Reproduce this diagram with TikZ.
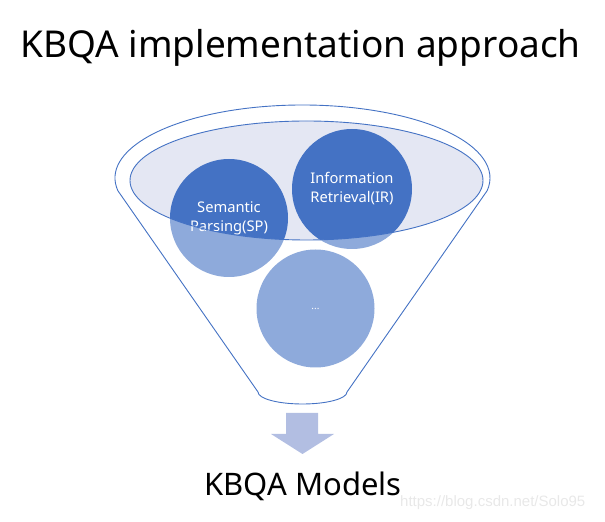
\documentclass[tikz,border=0pt]{standalone}
\usepackage{fontspec}
\setmainfont{Noto Sans}
\newfontfamily\urlfont{Liberation Sans}
\definecolor{funnelblue}{RGB}{68,114,196}
\definecolor{bowlfill}{RGB}{228,231,243}
\definecolor{arrowfill}{RGB}{178,190,226}
\definecolor{markgray}{RGB}{232,232,232}

\begin{document}
\begin{tikzpicture}[x=1pt, y=1pt]
  \tikzset{
    funnel_line/.style={draw=funnelblue, line width=0.9pt},
    ball/.style={circle, fill=funnelblue, text=white, inner sep=0pt,
      minimum size=118pt, align=center, font=\fontsize{14.7}{19}\selectfont},
  }
  \useasboundingbox (0,0) rectangle (605,522);

  % characteristic coordinates of funnel
  \coordinate (rim-c) at (302.5,344);
  \coordinate (bowl-c) at (306.5,341.5);
  \coordinate (spout-r) at (347,130);

  % bowl
  \fill[bowlfill] (bowl-c) ellipse [x radius=176.5, y radius=59.5];

  % balls
  \node[ball] (sp) at (229,304) {Semantic\\Parsing(SP)};
  \node[ball, minimum size=120pt] (ir) at (352,333) {Information\\Retrieval(IR)};
  \node[ball, font=\fontsize{10}{12}\selectfont] (more) at (315.5,213.5) {...};

  % funnel body over the balls
  \path[funnel_line, fill=white, fill opacity=0.4, even odd rule]
    (rim-c) ++(190:187.5 and 73)
      arc[start angle=190, end angle=-10, x radius=187.5, y radius=73]
      -- (spout-r)
      arc[start angle=0, end angle=-180, x radius=44.5, y radius=12]
      -- cycle
    (bowl-c) ellipse [x radius=176.5, y radius=59.5];

  % down arrow
  \fill[arrowfill] (286,109) -- (318,109) -- (318,88) -- (334,88)
    -- (302.5,68) -- (271,88) -- (286,88) -- cycle;

  % titles
  \node[anchor=base, font=\fontsize{37}{44}\selectfont] (title) at (300.5,464) {KBQA implementation approach};
  \node[anchor=base, font=\fontsize{31}{37}\selectfont] (models) at (303,27) {KBQA Models};
  \node[anchor=base west, inner sep=0pt, text=markgray, font=\urlfont\fontsize{15}{18}\selectfont] (mark) at (400,15) {https://blog.csdn.net/Solo95};
\end{tikzpicture}
\end{document}
